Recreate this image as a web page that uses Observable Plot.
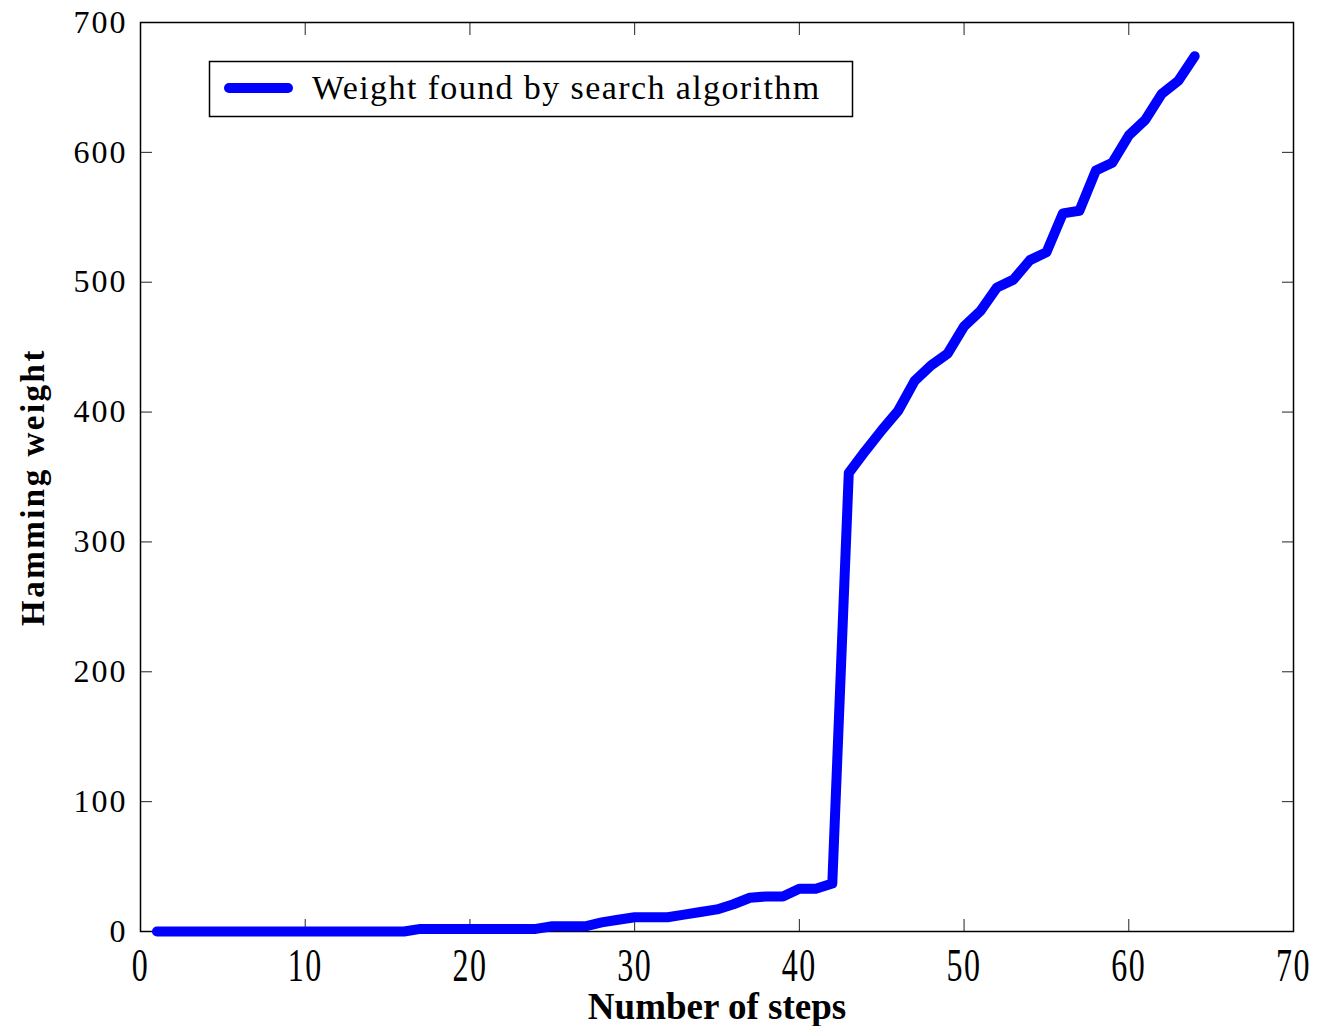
<!DOCTYPE html>
<html><head><meta charset="utf-8">
<script src="https://cdn.jsdelivr.net/npm/d3@7"></script>
<script src="https://cdn.jsdelivr.net/npm/@observablehq/plot@0.6"></script>
<style>
body{margin:0;background:#fff;}
#chart{width:1317px;height:1026px;}
g[aria-label="y-axis tick label"] text{letter-spacing:2px;}
g[aria-label="x-axis tick label"] text{letter-spacing:1.5px;}
</style>
</head><body><div id="chart"></div>
<script>
const steps = [1,2,3,4,5,6,7,8,9,10,11,12,13,14,15,16,17,18,19,20,21,22,23,24,25,26,27,28,29,30,31,32,33,34,35,36,37,38,39,40,41,42,43,44,45,46,47,48,49,50,51,52,53,54,55,56,57,58,59,60,61,62,63,64];
const weights = [0,0,0,0,0,0,0,0,0,0,0,0,0,0,0,0,
  2,2,2,2,2,2,2,2,
  4,4,4,7,9,11,11,11,13,15,17,21,26,27,27,33,33,37,
  353,370,386,401,424,436,445,466,478,496,502,517,523,553,555,586,592,613,625,645,655,674];
const xTicks = [0,10,20,30,40,50,60,70];
const yTicks = [0,100,200,300,400,500,600,700];
const legendLabel = "Weight found by search algorithm";
const xLabel = "Number of steps";
const yLabel = "Hamming weight";

const data = steps.map((s, i) => ({step: s, weight: weights[i]}));
const font = '"Liberation Serif","Times New Roman",Times,serif';
const blank = () => "";

const chart = Plot.plot({
  width: 1317, height: 1026,
  marginLeft: 140, marginRight: 24, marginTop: 22, marginBottom: 95,
  style: {fontFamily: font, background: "#fff", overflow: "visible", color: "#000"},
  x: {domain: [0, 70]},
  y: {domain: [0, 700]},
  marks: [
    Plot.axisX(xTicks, {anchor: "bottom", tickSize: 12, dy: -12, tickFormat: blank, label: null, stroke: "#222"}),
    Plot.axisX(xTicks, {anchor: "top", tickSize: 12, dy: 12, tickFormat: blank, label: null, stroke: "#222"}),
    Plot.axisY(yTicks, {anchor: "left", tickSize: 12, dx: 12, tickFormat: blank, label: null, stroke: "#222"}),
    Plot.axisY(yTicks, {anchor: "right", tickSize: 12, dx: -12, tickFormat: blank, label: null, stroke: "#222"}),
    Plot.axisX(xTicks, {anchor: "bottom", tickSize: 0, tickPadding: 17, fontSize: 32, label: null, fill: "#000"}),
    Plot.axisY(yTicks, {anchor: "left", tickSize: 0, tickPadding: 13, fontSize: 32, label: null, fill: "#000"}),
    Plot.frame({stroke: "#000", strokeWidth: 1.5}),
    Plot.line(data, {x: "step", y: "weight", stroke: "#0000ff", strokeWidth: 10, strokeLinecap: "round", strokeLinejoin: "round"}),
    Plot.text([xLabel], {text: d => d, frameAnchor: "bottom", dy: 76, fontSize: 37, fontWeight: "bold", textAnchor: "middle", lineAnchor: "middle", fill: "#000"}),
    Plot.text([yLabel], {text: d => d, frameAnchor: "left", rotate: -90, dx: -107, dy: 10, fontSize: 33, fontWeight: "bold", textAnchor: "middle", lineAnchor: "middle", fill: "#000"})
  ]
});

document.getElementById("chart").appendChild(chart);

// stretch x tick labels vertically like the reference
chart.querySelectorAll('g[aria-label="x-axis tick label"] text').forEach(t => {
  const tr = t.getAttribute("transform") || "";
  t.setAttribute("transform", tr + " scale(1,1.42)");
});
// y label letter spacing
chart.querySelectorAll('text').forEach(t => {
  if (t.textContent === yLabel) t.style.letterSpacing = "2.5px";
});

// legend
const svg = d3.select(chart);
const lg = svg.append("g").attr("class", "legend");
lg.append("rect").attr("x", 209.5).attr("y", 61.5).attr("width", 643).attr("height", 55)
  .attr("fill", "#fff").attr("stroke", "#000").attr("stroke-width", 1.5);
lg.append("line").attr("x1", 229).attr("x2", 288).attr("y1", 88).attr("y2", 88)
  .attr("stroke", "#0000ff").attr("stroke-width", 10).attr("stroke-linecap", "round");
lg.append("text").attr("x", 312).attr("y", 98.5).attr("font-family", font).attr("font-size", 34)
  .attr("text-anchor", "start").attr("fill", "#000").style("letter-spacing", "1.4px").text(legendLabel);
</script>
</body></html>
